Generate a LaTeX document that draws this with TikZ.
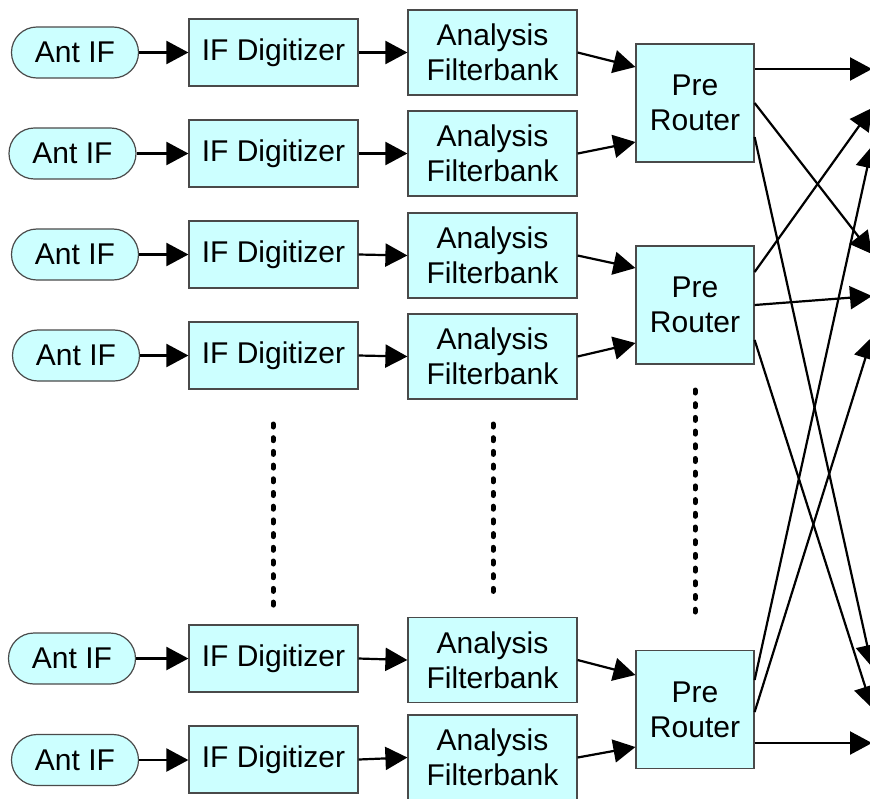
\documentclass[tikz,border=0pt]{standalone}
\usepackage{fontspec}
\setmainfont{Liberation Sans}
\usetikzlibrary{arrows.meta,calc}
\definecolor{boxfill}{HTML}{CCFFFF}
\definecolor{boxline}{HTML}{4A4A4A}
\begin{document}
\begin{tikzpicture}[x=0.5pt,y=-0.5pt,
  every node/.style={font=\fontsize{15}{17.5}\selectfont, align=center, inner sep=0pt},
  blk/.style={draw=boxline, fill=boxfill, line width=0.6pt},
  antbox/.style={blk, minimum width=63.5pt, minimum height=25.5pt, rounded corners=12.7pt},
  digbox/.style={blk, minimum width=84.5pt, minimum height=33.5pt},
  anabox/.style={blk, minimum width=84.5pt, minimum height=42.5pt},
  rtbox/.style={blk, minimum width=59pt, minimum height=59pt},
  conn/.style={line width=1.1pt, -{Triangle[length=11pt,width=11.5pt]}},
  vdots/.style={line width=2.5pt, line cap=round, dash pattern=on 1.5pt off 5.35pt}
]
\useasboundingbox (0,0) rectangle (870,798);

% rows: index / ant x / ant y / digitizer y / filterbank y
\foreach \i/\xa/\ya/\yd/\yf in {1/75/52.5/52.5/52.5, 2/72.5/153.5/153.5/153.5,
    3/75/254.5/254.5/255.5, 4/76/355.5/355.5/356.5,
    5/72/658.5/658.5/660, 6/75/760/759.5/757.5}{
  \node[antbox] (a\i) at (\xa,\ya) {Ant IF};
  \node[digbox] (d\i) at (273.5,\yd) {IF Digitizer};
  \node[anabox] (f\i) at (492.5,\yf) {Analysis\\Filterbank};
  \draw[conn] (a\i.east) -- (a\i.east -| d\i.west);
  \draw[conn] (d\i.east) -- (f\i.west);
}

% pre routers
\node[rtbox] (r1) at (695,103) {Pre\\Router};
\node[rtbox] (r2) at (695,305) {Pre\\Router};
\node[rtbox] (r3) at (695,709.5) {Pre\\Router};

% filterbank -> router
\draw[conn] (f1.east) -- ([yshift=18pt]r1.west);
\draw[conn] (f2.east) -- ([yshift=-19.5pt]r1.west);
\draw[conn] (f3.east) -- ([yshift=18.5pt]r2.west);
\draw[conn] (f4.east) -- ([yshift=-19pt]r2.west);
\draw[conn] (f5.east) -- ([yshift=17.25pt]r3.west);
\draw[conn] (f6.east) -- ([yshift=-18.75pt]r3.west);

% output end points
\coordinate (t1) at (872,69);
\coordinate (t2) at (872,108);
\coordinate (t3) at (872,146);
\coordinate (t4) at (872,254);
\coordinate (t5) at (872,296);
\coordinate (t6) at (872,337);
\coordinate (t7) at (872,667);
\coordinate (t8) at (872,708);
\coordinate (t9) at (872,743);

% router outputs
\draw[conn] ([yshift=17pt]r1.east) -- (t1);
\draw[conn] (r1.east) -- (t4);
\draw[conn] ([yshift=-17pt]r1.east) -- (t7);
\draw[conn] ([yshift=16.5pt]r2.east) -- (t2);
\draw[conn] (r2.east) -- (t5);
\draw[conn] ([yshift=-17.5pt]r2.east) -- (t8);
\draw[conn] ([yshift=14.75pt]r3.east) -- (t3);
\draw[conn] ([yshift=-1.25pt]r3.east) -- (t6);
\draw[conn] ([yshift=-16.75pt]r3.east) -- (t9);

% dotted continuation marks
\draw[vdots] (273,424) -- (273,606);
\draw[vdots] (493,424) -- (493,594);
\draw[vdots] (695,390) -- (695,612);
\end{tikzpicture}
\end{document}
